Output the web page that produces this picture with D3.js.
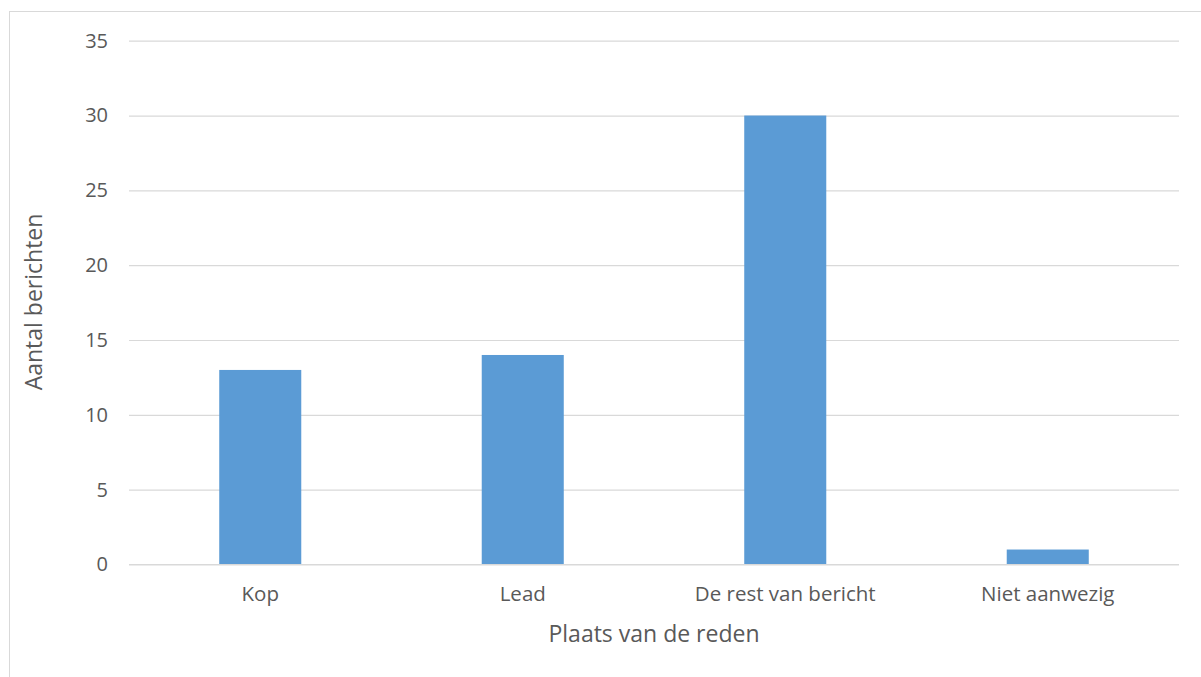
<!DOCTYPE html>
<html>
<head>
<meta charset="utf-8">
<script src="https://cdn.jsdelivr.net/npm/d3@7"></script>
<style>
  body { margin: 0; background: #fff; }
  svg { display: block; font-family: "Open Sans", sans-serif; }
</style>
</head>
<body>
<svg class="chart" width="1201" height="677"></svg>
<script>
var categories = ['Kop', 'Lead', 'De rest van bericht', 'Niet aanwezig'];
var values = [13, 14, 30, 1];
var yTicks = [0, 5, 10, 15, 20, 25, 30, 35];

var svg = d3.select('.chart');

/* chart border */
svg.append('rect')
  .attr('x', 9.5).attr('y', 11.5)
  .attr('width', 1300).attr('height', 800)
  .attr('fill', 'none')
  .attr('stroke', '#d9d9d9');

/* Scales */
var xScale = d3.scaleBand()
  .domain(categories)
  .range([129, 1179])
  .paddingInner(0.6875)
  .paddingOuter(0.34375);

var yScale = d3.scaleLinear()
  .domain([0, 35])
  .range([564.5, 40.7]);

/* Gridlines + y labels */
var yAxis = d3.axisLeft(yScale)
  .tickValues(yTicks)
  .tickSize(-(1179 - 129))
  .tickPadding(21);

var gy = svg.append('g')
  .attr('transform', 'translate(129,0)')
  .call(yAxis);
gy.select('.domain').remove();
gy.selectAll('line').attr('stroke', '#d9d9d9').attr('stroke-width', 1.2);
gy.selectAll('text')
  .attr('fill', '#595959')
  .style('font-size', '20px')
  .style('font-family', '"Open Sans", sans-serif');

/* Bars */
svg.append('g')
  .selectAll('rect')
  .data(values)
  .join('rect')
  .attr('x', function (d, i) { return xScale(categories[i]); })
  .attr('y', function (d) { return yScale(d); })
  .attr('width', xScale.bandwidth())
  .attr('height', function (d) { return yScale(0) - yScale(d); })
  .attr('fill', '#5b9bd5');

/* x axis labels */
var xAxis = d3.axisBottom(xScale).tickSize(0).tickPadding(22);
var gx = svg.append('g')
  .attr('transform', 'translate(0,564.5)')
  .call(xAxis);
gx.select('.domain').remove();
gx.selectAll('text')
  .attr('fill', '#595959')
  .style('font-size', '20.5px')
  .style('font-family', '"Open Sans", sans-serif');

/* redraw zero line on top of bars */
svg.append('line')
  .attr('x1', 129).attr('x2', 1179)
  .attr('y1', yScale(0)).attr('y2', yScale(0))
  .attr('stroke', '#d9d9d9').attr('stroke-width', 1.2);

/* Axis titles */
svg.append('text')
  .attr('x', 654).attr('y', 642)
  .attr('text-anchor', 'middle')
  .attr('fill', '#595959')
  .style('font-size', '23px')
  .text('Plaats van de reden');

svg.append('text')
  .attr('transform', 'translate(42,302) rotate(-90)')
  .attr('text-anchor', 'middle')
  .attr('fill', '#595959')
  .style('font-size', '23px')
  .text('Aantal berichten');
</script>
</body>
</html>
